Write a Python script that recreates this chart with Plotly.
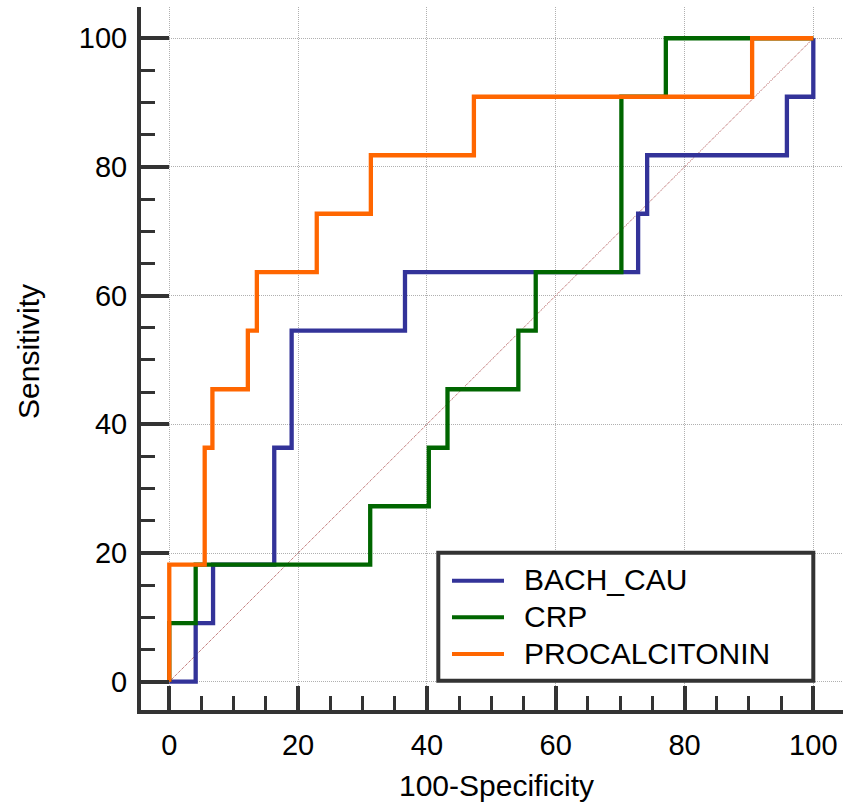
import plotly.graph_objects as go

# ROC step curves: 100-Specificity (x) and Sensitivity (y) at each corner
bach_x = [0, 4.1, 4.1, 6.8, 6.8, 16.3, 16.3, 19.0, 19.0, 36.6, 36.6, 72.8, 72.8, 74.2, 74.2, 95.9, 95.9, 100, 100]
bach_y = [0, 0, 9.09, 9.09, 18.18, 18.18, 36.36, 36.36, 54.55, 54.55, 63.64, 63.64, 72.73, 72.73, 81.82, 81.82, 90.91, 90.91, 100]

crp_x = [0, 0, 4.1, 4.1, 31.2, 31.2, 40.3, 40.3, 43.2, 43.2, 54.2, 54.2, 56.9, 56.9, 70.2, 70.2, 77.1, 77.1, 100]
crp_y = [0, 9.09, 9.09, 18.18, 18.18, 27.27, 27.27, 36.36, 36.36, 45.45, 45.45, 54.55, 54.55, 63.64, 63.64, 90.91, 90.91, 100, 100]

pct_x = [0, 0, 5.5, 5.5, 6.7, 6.7, 12.2, 12.2, 13.6, 13.6, 22.9, 22.9, 31.3, 31.3, 47.3, 47.3, 90.5, 90.5, 100]
pct_y = [0, 18.18, 18.18, 36.36, 36.36, 45.45, 45.45, 54.55, 54.55, 63.64, 63.64, 72.73, 72.73, 81.82, 81.82, 90.91, 90.91, 100, 100]

names = ["BACH_CAU", "CRP", "PROCALCITONIN"]
colors = ["#333399", "#006600", "#ff6600"]
ticks = [0, 20, 40, 60, 80, 100]

W, H = 843, 803
L, T, B, R = 141, 7, 93, 0
PW, PH = W - L - R, H - T - B
FONT = "Liberation Sans, Arial, sans-serif"
AXC = "#333333"


def px(xp):
    return (xp - L) / PW


def py(yp):
    return (H - B - yp) / PH


fig = go.Figure()

# reference diagonal
fig.add_trace(go.Scatter(x=[0, 100], y=[0, 100], mode="lines",
                         line=dict(color="rgb(170,70,70)", width=1, dash="1px,1px"),
                         hoverinfo="skip", showlegend=False))

for xs, ys, nm, c in zip([bach_x, crp_x, pct_x], [bach_y, crp_y, pct_y], names, colors):
    fig.add_trace(go.Scatter(x=xs, y=ys, mode="lines", name=nm,
                             line=dict(color=c, width=4.3), showlegend=False))

axis_common = dict(
    showline=True, linewidth=4, linecolor=AXC,
    ticks="inside", tickwidth=4, tickcolor=AXC,
    tickvals=ticks, ticktext=[str(t) for t in ticks],
    showgrid=True, gridcolor="#b0b0b0", gridwidth=1, griddash="1px,1px",
    zeroline=False,
    tickfont=dict(family=FONT, size=29, color="black"),
    minor=dict(dtick=5, tick0=0, ticks="inside", ticklen=14, tickwidth=3,
               tickcolor=AXC, showgrid=False),
)

fig.update_xaxes(range=[-4.39, 104.61], ticklen=24, ticklabelstandoff=6, **axis_common)
fig.update_yaxes(range=[-4.40, 104.86], ticklen=28, ticklabelstandoff=4, **axis_common)

# legend box drawn in figure space
shapes = [dict(type="rect", xref="paper", yref="paper",
               x0=px(438.3), x1=px(813.3), y0=py(680.7), y1=py(552.7),
               line=dict(color=AXC, width=4), fillcolor="white", layer="above")]
annotations = []
rows = [580.7, 617.3, 654.0]
for nm, c, yr in zip(names, colors, rows):
    shapes.append(dict(type="line", xref="paper", yref="paper",
                       x0=px(452), x1=px(504), y0=py(yr), y1=py(yr),
                       line=dict(color=c, width=4), layer="above"))
    annotations.append(dict(xref="paper", yref="paper", x=px(522), y=py(yr - 1),
                            text=nm, showarrow=False, xanchor="left", yanchor="middle",
                            font=dict(family=FONT, size=30, color="black")))

# axis titles
annotations.append(dict(xref="paper", yref="paper", x=px(496), y=py(785),
                        text="100-Specificity", showarrow=False,
                        xanchor="center", yanchor="middle",
                        font=dict(family=FONT, size=30, color="black")))
annotations.append(dict(xref="paper", yref="paper", x=px(28), y=py(352),
                        text="Sensitivity", showarrow=False, textangle=-90,
                        xanchor="center", yanchor="middle",
                        font=dict(family=FONT, size=30, color="black")))

fig.update_layout(
    width=W, height=H,
    margin=dict(l=L, r=R, t=T, b=B, pad=0),
    paper_bgcolor="white", plot_bgcolor="white",
    shapes=shapes, annotations=annotations,
    showlegend=False,
)

fig.write_html("out.html")
